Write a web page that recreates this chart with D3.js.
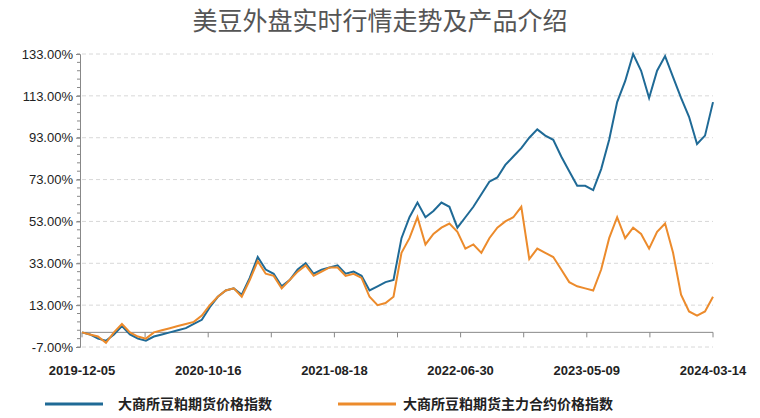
<!DOCTYPE html><html><head><meta charset="utf-8"><script src="https://cdn.jsdelivr.net/npm/d3@7"></script>
<style>body{margin:0;background:#fff}</style></head><body><svg id="c" width="760" height="418"></svg><script>
const title="美豆外盘实时行情走势及产品介绍";
const seriesNames=["大商所豆粕期货价格指数","大商所豆粕期货主力合约价格指数"];
const xLabels=["2019-12-05","2020-10-16","2021-08-18","2022-06-30","2023-05-09","2024-03-14"];
const yTicks=[-7,13,33,53,73,93,113,133];
const blue=[0,-1,-3,-4,-1,3,-1,-3,-4,-2,-1,0,1,2,4,6,12,17,20,21,18,26,36,30,28,22,25,30,33,28,30,31,32,28,29,27,20,22,24,25,45,55,62,55,58,62,60,50,55,60,66,72,74,80,84,88,93,97,94,92,84,77,70,70,68,78,92,110,120,133,125,112,125,132,122,112,103,90,94,110];
const orange=[0,-1,-2,-5,0,4,0,-2,-3,0,1,2,3,4,5,8,13,17,20,21,17,25,34,28,27,21,25,29,32,27,29,31,31,27,28,26,17,13,14,17,38,45,55,42,47,50,52,48,40,42,38,45,50,53,55,60,35,40,38,36,30,24,22,21,20,30,45,55,45,50,47,40,48,52,38,18,10,8,10,17];
const svg=d3.select("#c");
const L=82,R=713,T=54,B=347;
const x=d3.scaleLinear().domain([0,blue.length-1]).range([L,R]);
const y=d3.scaleLinear().domain([-7,133]).range([B,T]);
const g=svg.append("g");
yTicks.forEach(t=>{g.append("line").attr("x1",L).attr("x2",R).attr("y1",y(t)).attr("y2",y(t)).attr("stroke","#d8d8d8").attr("stroke-dasharray","4,3");});
const ya=d3.axisLeft(y).tickValues(yTicks).tickFormat(d=>d.toFixed(2)+"%").tickSize(4);
svg.append("g").attr("transform",`translate(${L-2},0)`).call(ya).call(s=>{s.select(".domain").attr("stroke","#888");s.selectAll("text").attr("font-family","Arial, Liberation Sans").attr("font-size",13).attr("fill","#222");s.selectAll("line").attr("stroke","#888");});
d3.range(-7,134,4).forEach(t=>svg.append("line").attr("x1",L-5).attr("x2",L-2).attr("y1",y(t)).attr("y2",y(t)).attr("stroke","#888"));
const xs=d3.scaleLinear().domain([0,10]).range([L,R]);
svg.append("line").attr("x1",L).attr("x2",R).attr("y1",y(0)).attr("y2",y(0)).attr("stroke","#888");
d3.range(0,11).forEach(i=>svg.append("line").attr("x1",xs(i)).attr("x2",xs(i)).attr("y1",y(0)).attr("y2",y(0)+5).attr("stroke","#888"));
xLabels.forEach((l,i)=>svg.append("text").attr("x",xs(i*2)).attr("y",375).attr("text-anchor","middle").attr("font-family","Arial, Liberation Sans").attr("font-size",13).attr("font-weight","bold").attr("fill","#222").text(l));
const line=d3.line().x((d,i)=>x(i)).y(d=>y(d));
svg.append("path").datum(blue).attr("d",line).attr("fill","none").attr("stroke","#1f6a96").attr("stroke-width",2);
svg.append("path").datum(orange).attr("d",line).attr("fill","none").attr("stroke","#ec8b2c").attr("stroke-width",2);
[["#1f6a96",45,118],["#ec8b2c",338,403]].forEach((c,i)=>{svg.append("line").attr("x1",c[1]).attr("x2",c[1]+58).attr("y1",404).attr("y2",404).attr("stroke",c[0]).attr("stroke-width",3);
svg.append("text").attr("x",c[2]).attr("y",409).attr("font-family","Noto Sans CJK SC").attr("font-size",14).attr("font-weight","bold").attr("fill","#222").text(seriesNames[i]);});
svg.append("text").attr("x",380).attr("y",30).attr("text-anchor","middle").attr("font-family","Noto Sans CJK SC").attr("font-size",25).attr("fill","#555").text(title);
</script></body></html>
